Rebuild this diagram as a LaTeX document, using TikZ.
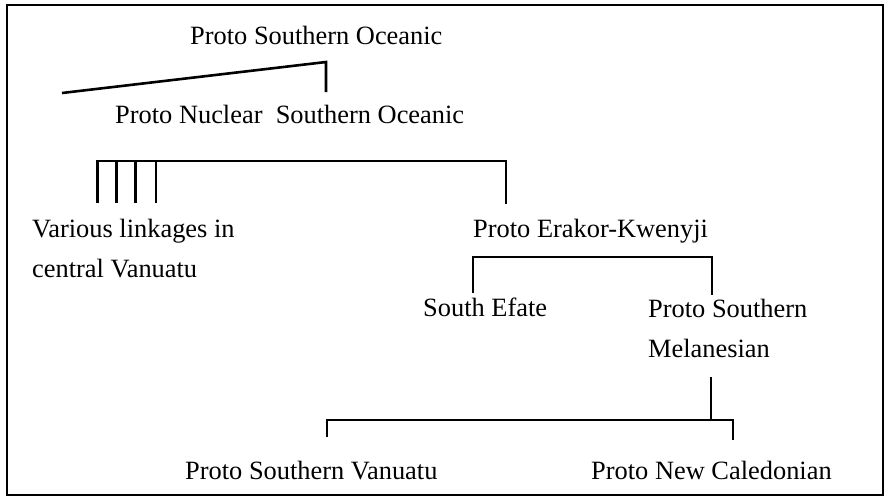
\documentclass[tikz,border=0pt]{standalone}
\usepackage{fontspec}
\setmainfont{Liberation Serif}
\begin{document}
\begin{tikzpicture}[x=1pt,y=-1pt,
  lbl/.style={inner sep=0pt, anchor=base west, font=\fontsize{26.4}{40}\selectfont, align=left},
  br/.style={line width=2.3pt, line join=miter},
  thinbr/.style={line width=1.5pt},
  frame/.style={line width=2pt}]
\useasboundingbox (0,0) rectangle (886,496);
\draw[frame] (7,5) rectangle (883,495);

% labels (multi-line nodes: base = baseline of last line)
\node[lbl] (pso)  at (190,44) {Proto Southern Oceanic};
\node[lbl] (pnso) at (115,123) {Proto Nuclear\ \ Southern Oceanic};
\node[lbl] (var)  at (32,277) {Various linkages in\\central Vanuatu};
\node[lbl] (pek)  at (473,237) {Proto Erakor-Kwenyji};
\node[lbl] (se)   at (423,316) {South Efate};
\node[lbl] (psm)  at (648,357) {Proto Southern\\Melanesian};
\node[lbl] (psv)  at (185,479) {Proto Southern Vanuatu};
\node[lbl] (pnc)  at (591,479) {Proto New Caledonian};

% top
\coordinate (a1) at (62,93);
\coordinate (a2) at (326,62);
\coordinate (a3) at (326,92);
\draw[line width=2.6pt, line join=miter] (a1) -- (a2) -- (a3);

% bracket 1
\coordinate (b0) at (97.5,161);
\coordinate (b1) at (506,161);
\draw[br] (97.5,203) -- (b0) -- (b1) -- (506,204);
\draw[br] (116.5,161) -- (116.5,203);
\draw[br] (135.5,161) -- (135.5,203);
\draw[br] (156,161) -- (156,203);

% bracket 2
\coordinate (c0) at (473,257);
\coordinate (c1) at (712,257);
\draw[br] (473,293) -- (c0) -- (c1) -- (712,295);

% bracket 3
\coordinate (m0) at (711,377);
\coordinate (m1) at (711,420);
\draw[thinbr] (m0) -- (m1);
\coordinate (d0) at (327,420);
\coordinate (d1) at (733,420);
\draw[br] (327,437) -- (d0) -- (d1) -- (733,440);
\end{tikzpicture}
\end{document}
